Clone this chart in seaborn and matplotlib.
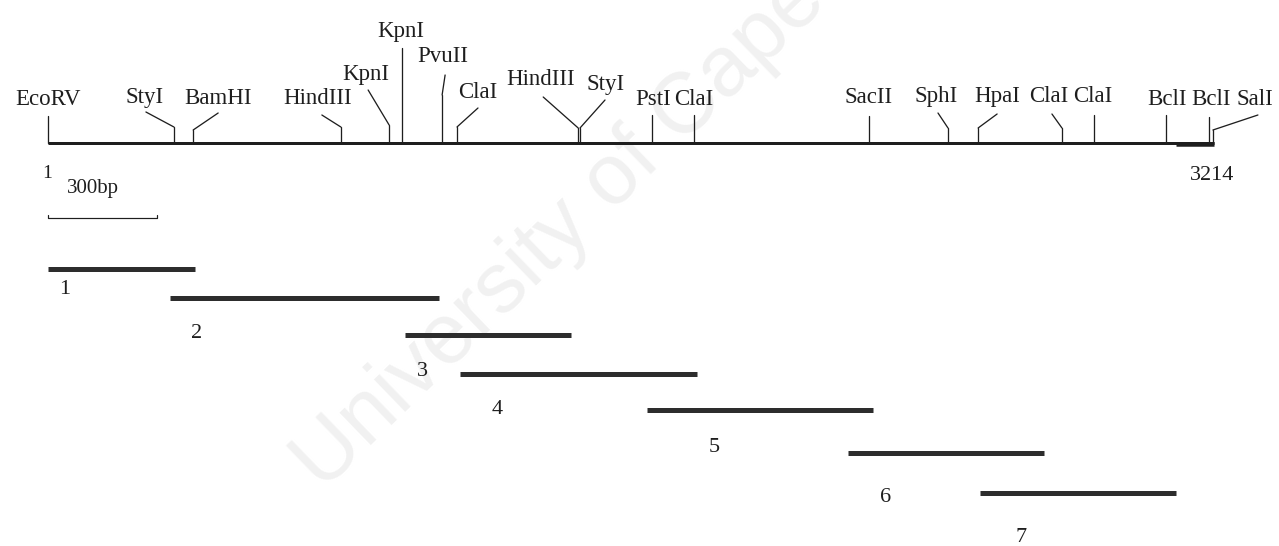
import matplotlib
matplotlib.use("Agg")
import matplotlib.pyplot as plt
from matplotlib.transforms import offset_copy
import numpy as np
import pandas as pd
import seaborn as sns

# ---------------- data ----------------
seq_start = 1
seq_length = 3214
scale_bp = 300

site_names = ["EcoRV", "StyI", "BamHI", "HindIII", "KpnI", "KpnI", "PvuII", "ClaI",
              "HindIII", "StyI", "PstI", "ClaI", "SacII", "SphI", "HpaI", "ClaI",
              "ClaI", "BclI", "BclI", "SalI"]
site_bp = [1, 348, 401, 808, 941, 977, 1087, 1128,
           1462, 1467, 1665, 1781, 2264, 2481, 2564, 2795,
           2884, 3082, 3200, 3211]

fragment_ids = ["1", "2", "3", "4", "5", "6", "7"]
fragment_start = [1, 337, 985, 1136, 1652, 2206, 2570]
fragment_end = [406, 1078, 1442, 1790, 2275, 2746, 3110]

# ---------------- layout (pixels) ----------------
W, H, DPI = 1279, 546, 100
X0_PX = 48            # pixel of bp 1
BP_PER_PX = (seq_length - seq_start) / (1214 - X0_PX)
BACKBONE_Y = 143

# per site: tick top y, leader dx, leader end y, label dx, label baseline y
site_layout = [
    (116, None, None, 0, 105),
    (127, -28, 112, -29, 103),
    (130, 25, 113, 25, 104),
    (127, -19, 115, -23, 104),
    (125, -21, 90, -23, 80),
    (48, None, None, -1, 37),
    (95, 3, 75, 1, 62),
    (127, 21, 108, 21, 98),
    (128, -35, 97, -38, 85),
    (128, 25, 100, 26, 90),
    (115, None, None, 1, 105),
    (115, None, None, 0, 105),
    (116, None, None, -1, 103),
    (128, -10, 113, -12, 102),
    (128, 19, 114, 19, 102),
    (128, -10, 114, -13, 102),
    (115, None, None, -1, 102),
    (115, None, None, 1, 105),
    (117, None, None, 2, 105),
    (130, 45, 115, 42, 105),
]
fragment_y = [269, 298, 335, 374, 410, 453, 493]
fragment_label_dx = [17, 27, 17, 37, 67, 37, 41]
fragment_label_y = [290, 334, 372, 410, 447, 497, 538]

# ---------------- figure ----------------
sns.set_theme(style="white")
plt.rcParams["font.family"] = ["Liberation Serif", "DejaVu Serif"]

fig = plt.figure(figsize=(W / DPI, H / DPI), dpi=DPI)
ax = fig.add_axes([0, 0, 1, 1])
ax.set_xlim(seq_start - X0_PX * BP_PER_PX, seq_start + (W - X0_PX) * BP_PER_PX)
ax.set_ylim(H, 0)
ax.axis("off")

ink = "#1e1e1e"
px = 0.72  # points per pixel


def shifted(dx_px):
    return offset_copy(ax.transData, fig=fig, x=dx_px, y=0, units="dots")


# faint watermark
ax.text(seq_start + (322 - X0_PX) * BP_PER_PX, 492, "University of Cape Town",
        rotation=44, rotation_mode="anchor", ha="left", va="baseline",
        fontsize=62, color="#f1f1f1", family="Liberation Sans", zorder=0)

# backbone
backbone = pd.DataFrame({"bp": [seq_start, seq_length], "y": [BACKBONE_Y] * 2})
sns.lineplot(data=backbone, x="bp", y="y", ax=ax, color=ink, lw=3 * px,
             sort=False, solid_capstyle="butt")
ax.plot([site_bp[-3] + 28, seq_length], [BACKBONE_Y + 0.8] * 2, color=ink,
        lw=4.5 * px, solid_capstyle="butt")

# restriction sites
for name, bp, (top, ldx, ly, tdx, ty) in zip(site_names, site_bp, site_layout):
    ax.plot([bp, bp], [BACKBONE_Y, top], color=ink, lw=1.3 * px)
    if ldx is not None:
        ax.plot([bp, bp + ldx * BP_PER_PX], [top, ly], color=ink, lw=1.3 * px)
    ax.text(bp, ty, name, transform=shifted(tdx), ha="center", va="baseline",
            fontsize=16.5, color=ink)

# ends
ax.text(seq_start, 174, str(seq_start), transform=shifted(-1), ha="center",
        va="center", fontsize=14, color=ink)
ax.text(seq_length, 176, str(seq_length), transform=shifted(-2), ha="center",
        va="center", fontsize=16, color=ink)

# scale bar
sb_y = 218
ax.plot([seq_start, seq_start, seq_start + scale_bp, seq_start + scale_bp],
        [sb_y - 3, sb_y, sb_y, sb_y - 3], color=ink, lw=1.2 * px)
ax.text(seq_start + scale_bp / 2, 189, f"{scale_bp}bp", transform=shifted(-9),
        ha="center", va="center", fontsize=15, color=ink)

# fragments
frag_df = pd.DataFrame({
    "fragment": np.repeat(fragment_ids, 2),
    "bp": np.ravel(np.column_stack([fragment_start, fragment_end])),
    "y": np.repeat(fragment_y, 2),
})
sns.lineplot(data=frag_df, x="bp", y="y", units="fragment", estimator=None,
             ax=ax, color="#2d2d2d", lw=5 * px, sort=False,
             solid_capstyle="butt", legend=False)
for fid, s, ldx, ly in zip(fragment_ids, fragment_start, fragment_label_dx, fragment_label_y):
    ax.text(s, ly, fid, transform=shifted(ldx), ha="center", va="center",
            fontsize=16, color=ink)

ax.set_xlabel("")
ax.set_ylabel("")
fig.savefig("out.png", dpi=DPI, facecolor="white")
